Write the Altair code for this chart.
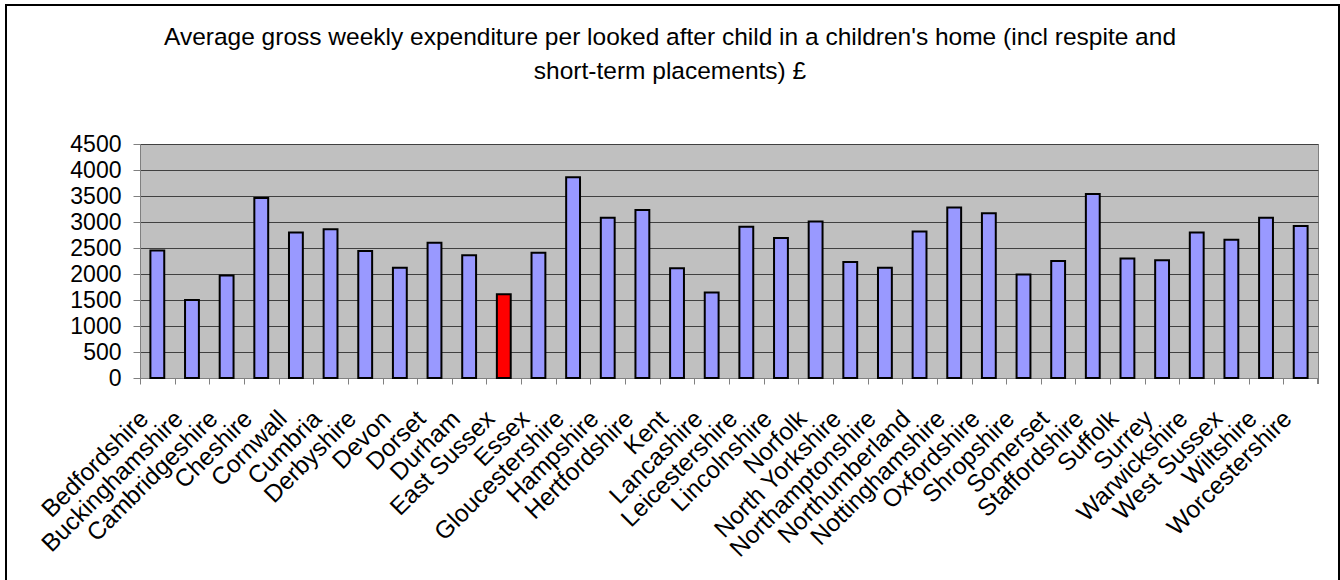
import altair as alt
import pandas as pd

# Shire counties and their average weekly spend per child in a children's home (£)
counties = [
    "Bedfordshire", "Buckinghamshire", "Cambridgeshire", "Cheshire", "Cornwall",
    "Cumbria", "Derbyshire", "Devon", "Dorset", "Durham", "East Sussex", "Essex",
    "Gloucestershire", "Hampshire", "Hertfordshire", "Kent", "Lancashire",
    "Leicestershire", "Lincolnshire", "Norfolk", "North Yorkshire",
    "Northamptonshire", "Northumberland", "Nottinghamshire", "Oxfordshire",
    "Shropshire", "Somerset", "Staffordshire", "Suffolk", "Surrey",
    "Warwickshire", "West Sussex", "Wiltshire", "Worcestershire",
]
spend = [
    2450, 1500, 1970, 3460, 2800,
    2860, 2440, 2120, 2600, 2360, 1610, 2410,
    3860, 3080, 3230, 2110, 1645,
    2910, 2690, 3010, 2230,
    2120, 2815, 3280, 3170,
    1990, 2250, 3540, 2300, 2265,
    2800, 2660, 3080, 2925,
]
highlight = "East Sussex"
y_ticks = list(range(0, 4501, 500))

df = pd.DataFrame({"county": counties, "spend": spend})
df["group"] = ["focus" if c == highlight else "other" for c in counties]

FONT = "Liberation Sans"
W, H = 1178, 234
step = W / len(counties)

x_enc = alt.X(
    "county:N",
    sort=counties,
    scale=alt.Scale(paddingInner=0.6, paddingOuter=0.3),
    axis=alt.Axis(
        title=None,
        labelAngle=-45,
        labelAlign="right",
        labelBaseline="middle",
        labelFont=FONT,
        labelFontSize=24.5,
        labelColor="black",
        labelPadding=31,
        labelLimit=0,
        bandPosition=0.5,
        tickOffset=-step / 2,
        labelOffset=step / 2 - 13,
        tickSize=6,
        tickColor="#808080",
        domainColor="#808080",
        grid=False,
    ),
)
y_enc = alt.Y(
    "spend:Q",
    scale=alt.Scale(domain=[0, 4500], nice=False),
    axis=alt.Axis(
        title=None,
        values=y_ticks,
        format="d",
        labelFont=FONT,
        labelFontSize=23,
        labelColor="black",
        labelPadding=12,
        tickSize=7,
        tickColor="#808080",
        domainColor="#808080",
        gridColor="#404040",
        gridWidth=1,
    ),
)

bars = alt.Chart(df).mark_bar(stroke="black", strokeWidth=2).encode(
    x=x_enc,
    y=y_enc,
    color=alt.Color(
        "group:N",
        scale=alt.Scale(domain=["other", "focus"], range=["#9999FF", "#FF0000"]),
        legend=None,
    ),
)

# closing tick at the right end of the category axis
end_tick = alt.Chart(df).mark_rule(color="#808080").encode(
    x=alt.value(W), y=alt.value(H), y2=alt.value(H + 6)
)

# outer frame around the whole figure
frame = alt.Chart(df).mark_rect(fill=None, stroke="black", strokeWidth=1.2).encode(
    x=alt.value(-134), x2=alt.value(1199), y=alt.value(-139), y2=alt.value(450)
)

chart = (
    alt.layer(bars, end_tick, frame)
    .properties(
        width=W,
        height=H,
        autosize=alt.AutoSizeParams(type="none"),
        padding={"left": 140, "top": 144, "right": 22, "bottom": 202},
        background="white",
        title=alt.TitleParams(
            text=[
                "Average gross weekly expenditure per looked after child in a children's home (incl respite and",
                "short-term placements) £",
            ],
            font=FONT,
            fontSize=24.5,
            fontWeight="normal",
            color="black",
            anchor="middle",
            baseline="alphabetic",
            dx=-59,
            lineHeight=34,
            offset=-99,
        ),
    )
    .configure_view(fill="#C0C0C0", stroke="#808080", strokeWidth=1)
)

chart.save("out.html", embed_options={"renderer": "svg", "actions": False})
